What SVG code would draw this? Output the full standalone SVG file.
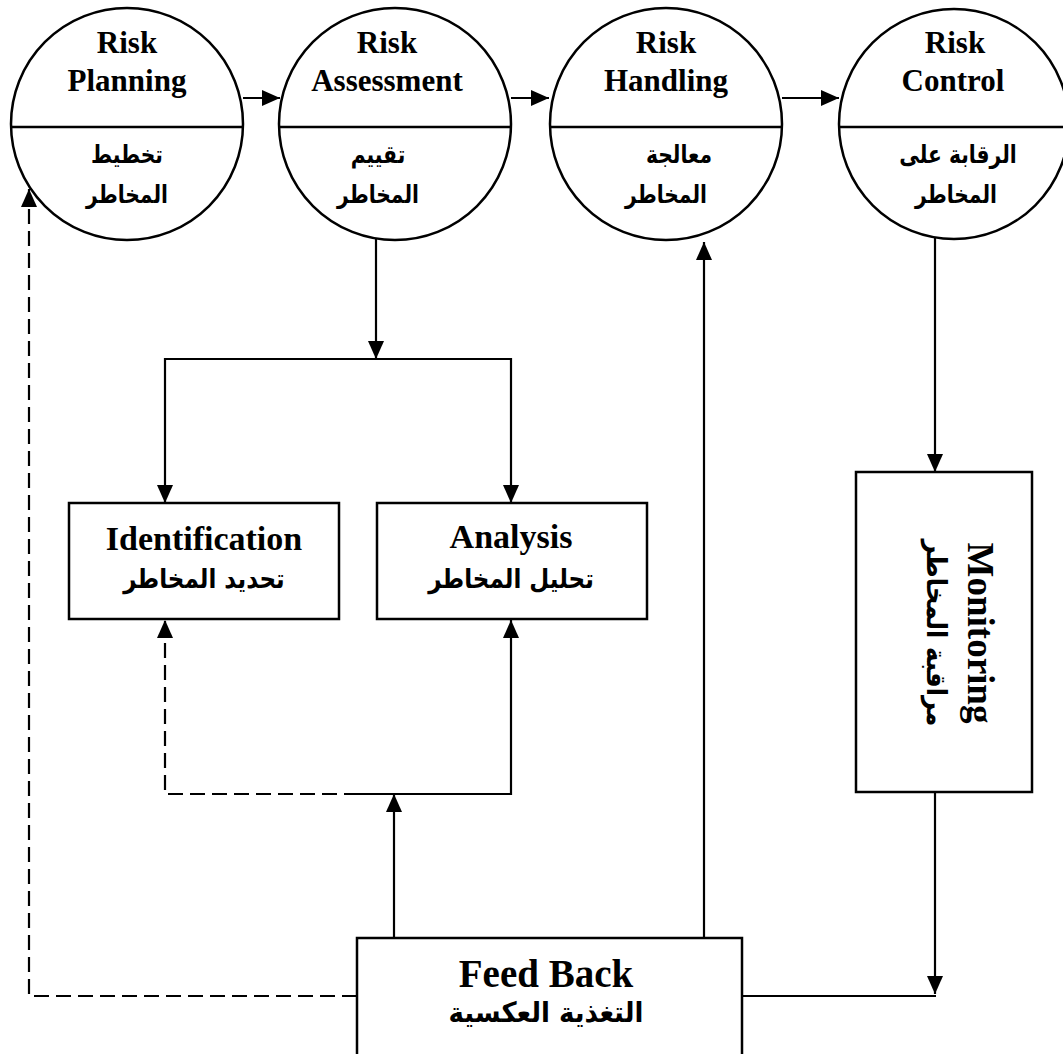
<svg xmlns="http://www.w3.org/2000/svg" width="1063" height="1054" viewBox="0 0 1063 1054">
<style>
.shape{fill:#fff;stroke:#000;stroke-width:2.5}
.div{stroke:#000;stroke-width:2.5}
.en{font-family:"Liberation Serif","Times New Roman",serif;font-weight:bold;fill:#000;text-anchor:middle}
.ar{font-family:"DejaVu Sans","Noto Sans",sans-serif;font-weight:bold;fill:#000;text-anchor:middle}
.c{fill:none;stroke:#000;stroke-width:2.2}
.d{fill:none;stroke:#000;stroke-width:2.2;stroke-dasharray:15 7}
</style>
<defs>
<marker id="ah" markerUnits="userSpaceOnUse" markerWidth="18" markerHeight="16" refX="18" refY="8" orient="auto">
<path d="M0,0 L18,8 L0,16 z" fill="#000"/>
</marker>
</defs>
<rect width="1063" height="1054" fill="#fff"/>

<g id="risk-planning">
<circle class="shape" cx="127" cy="124" r="116"/>
<line class="div" x1="11" y1="127" x2="243" y2="127"/>
<text class="en" x="127" y="53" font-size="31">Risk</text>
<text class="en" x="127" y="91" font-size="31">Planning</text>
<text class="ar" font-size="23" transform="translate(127,163) scale(0.88,1.08)">تخطيط</text>
<text class="ar" font-size="23" transform="translate(127,203) scale(0.88,1.08)">المخاطر</text>
</g>

<g id="risk-assessment">
<circle class="shape" cx="395" cy="124" r="116"/>
<line class="div" x1="279" y1="127" x2="511" y2="127"/>
<text class="en" x="387" y="53" font-size="31">Risk</text>
<text class="en" x="387" y="91" font-size="31">Assessment</text>
<text class="ar" font-size="23" transform="translate(378,163) scale(0.88,1.08)">تقييم</text>
<text class="ar" font-size="23" transform="translate(378,203) scale(0.88,1.08)">المخاطر</text>
</g>

<g id="risk-handling">
<circle class="shape" cx="666" cy="124" r="116"/>
<line class="div" x1="550" y1="127" x2="782" y2="127"/>
<text class="en" x="666" y="53" font-size="31">Risk</text>
<text class="en" x="666" y="91" font-size="31">Handling</text>
<text class="ar" font-size="23" transform="translate(679,163) scale(0.88,1.08)">معالجة</text>
<text class="ar" font-size="23" transform="translate(666,203) scale(0.88,1.08)">المخاطر</text>
</g>

<g id="risk-control">
<circle class="shape" cx="954" cy="124" r="115"/>
<line class="div" x1="839" y1="127" x2="1069" y2="127"/>
<text class="en" x="955" y="53" font-size="31">Risk</text>
<text class="en" x="953" y="91" font-size="31">Control</text>
<text class="ar" font-size="23" transform="translate(958,163) scale(0.88,1.08)">الرقابة على</text>
<text class="ar" font-size="23" transform="translate(956,203) scale(0.88,1.08)">المخاطر</text>
</g>

<g id="identification">
<rect class="shape" x="69" y="503" width="270" height="116"/>
<text class="en" x="204" y="550" font-size="34">Identification</text>
<text class="ar" font-size="25" transform="translate(204,588) scale(0.92,1.08)">تحديد المخاطر</text>
</g>

<g id="analysis">
<rect class="shape" x="377" y="503" width="270" height="116"/>
<text class="en" x="511" y="548" font-size="34">Analysis</text>
<text class="ar" font-size="25" transform="translate(511,588) scale(0.92,1.08)">تحليل المخاطر</text>
</g>

<g id="monitoring">
<rect class="shape" x="856" y="472" width="176" height="320"/>
<text class="en" font-size="37" transform="translate(968,633) rotate(90)" x="0" y="0">Monitoring</text>
<text class="ar" font-size="26" transform="translate(927,633) rotate(90) scale(0.94,1.05)" x="0" y="0">مراقبة المخاطر</text>
</g>

<g id="feed-back">
<rect class="shape" x="357" y="938" width="385" height="118"/>
<text class="en" x="546" y="987" font-size="39">Feed Back</text>
<text class="ar" font-size="26" transform="translate(546,1022) scale(1,1.08)">التغذية العكسية</text>
</g>

<g id="connectors">
<line class="c" x1="243" y1="98" x2="280" y2="98" marker-end="url(#ah)"/>
<line class="c" x1="511" y1="98" x2="549" y2="98" marker-end="url(#ah)"/>
<line class="c" x1="782" y1="98" x2="839" y2="98" marker-end="url(#ah)"/>
<line class="c" x1="376" y1="238" x2="376" y2="359" marker-end="url(#ah)"/>
<path class="c" d="M376,359 H165 V503" marker-end="url(#ah)"/>
<path class="c" d="M376,359 H511 V503" marker-end="url(#ah)"/>
<line class="c" x1="935" y1="238" x2="935" y2="472" marker-end="url(#ah)"/>
<line class="c" x1="935" y1="792" x2="935" y2="994" marker-end="url(#ah)"/>
<line class="c" x1="742" y1="996" x2="936" y2="996"/>
<line class="c" x1="704" y1="938" x2="704" y2="242" marker-end="url(#ah)"/>
<line class="c" x1="394" y1="938" x2="394" y2="794" marker-end="url(#ah)"/>
<path class="c" d="M359,794 H511 V620" marker-end="url(#ah)"/>
<path class="d" d="M359,794 H165 V620" marker-end="url(#ah)"/>
<path class="d" d="M357,996 H29 V189" marker-end="url(#ah)"/>
</g>
</svg>
